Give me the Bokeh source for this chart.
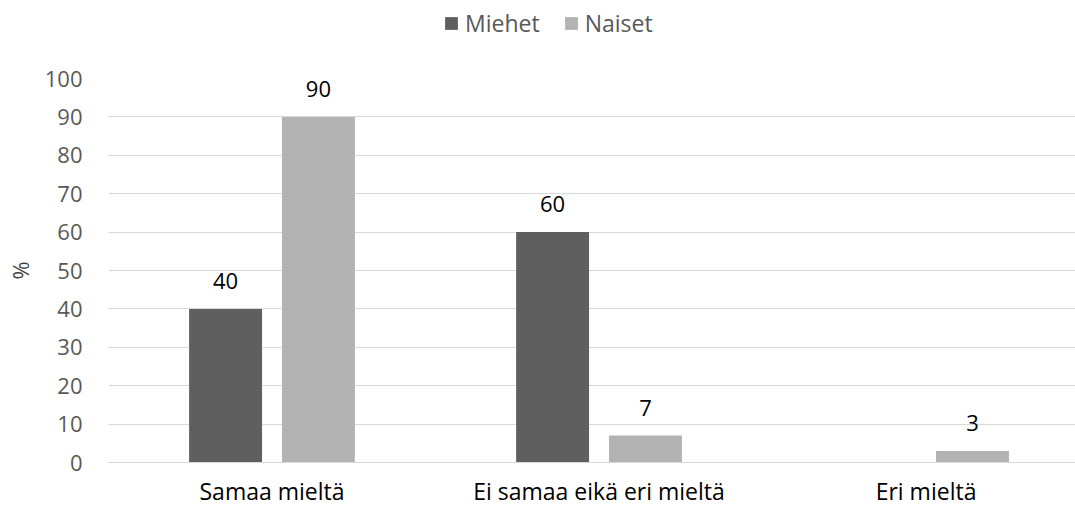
import numpy as np
from bokeh.plotting import figure
from bokeh.layouts import column
from bokeh.models import (ColumnDataSource, FixedTicker, Legend, LegendItem, Range1d)
from bokeh.core.properties import value
from bokeh.embed import file_html
from bokeh.resources import INLINE

# Survey answers (%) by gender
categories = ["Samaa mieltä", "Ei samaa eikä eri mieltä", "Eri mieltä"]
miehet = [40, 60, 0]
naiset = [90, 7, 3]
series_names = ["Miehet", "Naiset"]
y_ticks = [0, 10, 20, 30, 40, 50, 60, 70, 80, 90, 100]

FONT = "Open Sans"
DARK = "#5f5f5f"
LIGHT = "#b3b3b3"
GRID = "#d9d9d9"
TICK_TEXT = "#595959"

centers = np.arange(len(categories)) + 0.5
offset = 0.142
bar_w = 0.223

src_m = ColumnDataSource(dict(x=centers - offset, y=miehet))
src_n = ColumnDataSource(dict(x=centers + offset, y=naiset))

# ---- main bar chart ----
p = figure(width=1075, height=449, output_backend="svg", toolbar_location=None,
           x_range=Range1d(0, 2.957), y_range=Range1d(0, 100),
           min_border_left=108, min_border_right=0, min_border_top=18,
           min_border_bottom=46)
p.outline_line_color = None
p.background_fill_color = "white"
p.border_fill_color = "white"

p.vbar(x="x", top="y", width=bar_w, source=src_m, fill_color=DARK, line_color=None)
p.vbar(x="x", top="y", width=bar_w, source=src_n, fill_color=LIGHT, line_color=None)

# value labels above non-zero bars
for xs, ys in ((centers - offset, miehet), (centers + offset, naiset)):
    keep = [i for i, v in enumerate(ys) if v > 0]
    lab = ColumnDataSource(dict(x=[xs[i] for i in keep], y=[ys[i] for i in keep],
                                t=[str(ys[i]) for i in keep]))
    p.text(x="x", y="y", text="t", source=lab, text_align="center",
           text_baseline="alphabetic", y_offset=-28, text_font=value(FONT),
           text_font_size="22px", text_color="#000000")

p.xgrid.visible = False
p.ygrid.grid_line_color = GRID
p.ygrid.grid_line_width = 1
p.ygrid.ticker = FixedTicker(ticks=y_ticks)

p.yaxis.ticker = FixedTicker(ticks=y_ticks)
p.yaxis.axis_line_color = None
p.yaxis.major_tick_line_color = None
p.yaxis.minor_tick_line_color = None
p.yaxis.major_label_standoff = 20
p.yaxis.major_label_text_font = FONT
p.yaxis.major_label_text_font_size = "22px"
p.yaxis.major_label_text_color = TICK_TEXT
p.yaxis.axis_label = "%"
p.yaxis.axis_label_text_font = FONT
p.yaxis.axis_label_text_font_size = "22px"
p.yaxis.axis_label_text_font_style = "normal"
p.yaxis.axis_label_text_color = "#404040"
p.yaxis.axis_label_standoff = 7

p.xaxis.ticker = FixedTicker(ticks=list(centers))
p.xaxis.major_label_overrides = {float(c): cat for c, cat in zip(centers, categories)}
p.xaxis.axis_line_color = GRID
p.xaxis.major_tick_line_color = None
p.xaxis.minor_tick_line_color = None
p.xaxis.major_label_standoff = 6
p.xaxis.major_label_text_font = FONT
p.xaxis.major_label_text_font_size = "23px"
p.xaxis.major_label_text_color = "#000000"

# ---- legend strip on top ----
leg = figure(width=1075, height=60, output_backend="svg", toolbar_location=None,
             x_range=Range1d(0, 1), y_range=Range1d(0, 1),
             x_axis_location=None, y_axis_location=None,
             min_border_left=0, min_border_right=0, min_border_top=0,
             min_border_bottom=0)
leg.outline_line_color = None
leg.xgrid.visible = False
leg.ygrid.visible = False
k_m = leg.vbar(x="x", top="y", width=bar_w, source=src_m, fill_color=DARK,
               line_color=None, visible=False)
k_n = leg.vbar(x="x", top="y", width=bar_w, source=src_n, fill_color=LIGHT,
               line_color=None, visible=False)

legend = Legend(items=[LegendItem(label=series_names[0], renderers=[k_m]),
                       LegendItem(label=series_names[1], renderers=[k_n])],
                orientation="horizontal", location=(335, 21),
                glyph_width=16, glyph_height=16, label_standoff=6, spacing=23,
                padding=0, margin=0, border_line_color=None,
                background_fill_alpha=0, inactive_fill_alpha=0,
                label_text_font=FONT,
                label_text_font_size="23px", label_text_color=TICK_TEXT)
leg.add_layout(legend, "center")

open("out.html", "w").write(file_html(column(leg, p, spacing=0), INLINE))
